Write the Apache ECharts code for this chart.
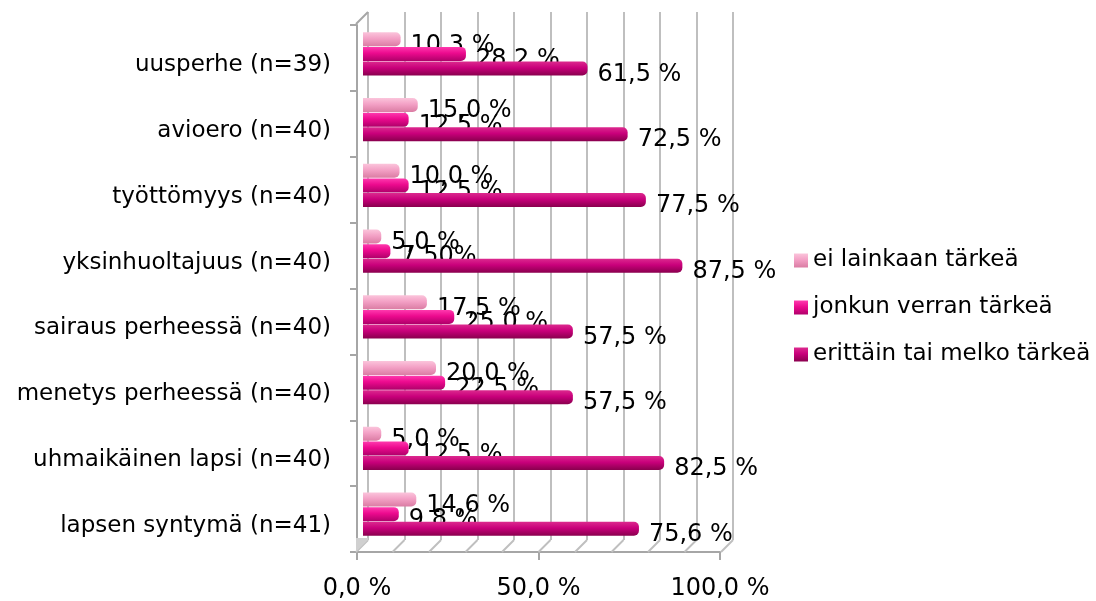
<!DOCTYPE html>
<html>
<head>
<meta charset="utf-8">
<script src="https://cdn.jsdelivr.net/npm/echarts@6/dist/echarts.min.js"></script>
<style>
html,body{margin:0;padding:0;background:#fff;}
#chart{width:1096px;height:601px;}
</style>
</head>
<body>
<div id="chart"></div>
<script>
const categories = [
  'uusperhe (n=39)',
  'avioero (n=40)',
  'työttömyys (n=40)',
  'yksinhuoltajuus (n=40)',
  'sairaus perheessä (n=40)',
  'menetys perheessä (n=40)',
  'uhmaikäinen lapsi (n=40)',
  'lapsen syntymä (n=41)'
];
const seriesNames = ['ei lainkaan tärkeä', 'jonkun verran tärkeä', 'erittäin tai melko tärkeä'];
const eiLainkaan = [10.3, 15.0, 10.0, 5.0, 17.5, 20.0, 5.0, 14.6];
const jonkunVerran = [28.2, 12.5, 12.5, 7.5, 25.0, 22.5, 12.5, 9.8];
const erittain = [61.5, 72.5, 77.5, 87.5, 57.5, 57.5, 82.5, 75.6];
const axisTicks = [0, 50, 100];
const backTicks = [0, 10, 20, 30, 40, 50, 60, 70, 80, 90, 100];
// label format exceptions (series index, data index) -> text as shown in the source
const labelOverrides = { '1-3': '7,50%' };

const FONT = 'DejaVu Sans';
function pct(v) { return v.toFixed(1).replace('.', ',') + ' %'; }

const grads = [
  ['#FBC4DB', '#F3A0C5', '#DA7CA3'],
  ['#FF3AAE', '#EC0A8E', '#B0006A'],
  ['#DC2A8E', '#C9007B', '#8A004E']
];
function grad(c) {
  return new echarts.graphic.LinearGradient(0, 0, 0, 1, [
    { offset: 0, color: c[0] },
    { offset: 0.45, color: c[1] },
    { offset: 1, color: c[2] }
  ]);
}
const legendColors = ['#F3A0C5', '#EC0A8E', '#C0006E'];
const dataSets = [eiLainkaan, jonkunVerran, erittain];

const barSeries = dataSets.map((d, si) => ({
  name: seriesNames[si],
  type: 'bar',
  xAxisIndex: 1,
  yAxisIndex: 1,
  data: d,
  barWidth: 14,
  barGap: '4%',
  color: legendColors[si],
  itemStyle: { color: grad(grads[si]), borderRadius: [0, 5, 5, 0] },
  label: {
    show: true,
    position: 'right',
    distance: 10,
    offset: [0, 6],
    color: '#000',
    fontFamily: FONT,
    fontSize: 24,
    formatter: p => labelOverrides[si + '-' + p.dataIndex] || pct(p.value)
  },
  z: 3 + si
}));

const chart = echarts.init(document.getElementById('chart'), null, { renderer: 'canvas' });
chart.setOption({
  backgroundColor: '#fff',
  animation: false,
  legend: {
    orient: 'vertical',
    left: 789,
    top: 244,
    icon: 'rect',
    itemWidth: 14,
    itemHeight: 14,
    itemGap: 24,
    data: seriesNames,
    textStyle: { fontFamily: FONT, fontSize: 23, color: '#000' }
  },
  grid: [
    { left: 368, right: 363, top: 12, bottom: 61 },   // back wall
    { left: 363, right: 368, top: 21, bottom: 54 },   // bars
    { left: 357, right: 376, top: 25, bottom: 49 },   // front axes
    { left: 357, right: 376, top: 32, bottom: 42 }    // category labels
  ],
  xAxis: [
    { gridIndex: 0, type: 'value', min: 0, max: 100, interval: 10,
      axisLine: { show: false }, axisTick: { show: false }, axisLabel: { show: false },
      splitLine: { show: true, lineStyle: { color: '#BFBFBF', width: 2 } } },
    { gridIndex: 1, type: 'value', min: 0, max: 100, show: false },
    { gridIndex: 2, type: 'value', min: 0, max: 100, interval: 50,
      axisLine: { show: true, lineStyle: { color: '#A6A6A6', width: 2 } },
      axisTick: { show: true, length: 8, lineStyle: { color: '#A6A6A6', width: 2 } },
      splitLine: { show: false },
      axisLabel: { fontFamily: FONT, fontSize: 24, color: '#000', margin: 25,
        formatter: v => pct(v) } },
    { gridIndex: 3, type: 'value', min: 0, max: 100, show: false }
  ],
  yAxis: [
    { gridIndex: 0, type: 'value', min: 0, max: 1, show: false },
    { gridIndex: 1, type: 'category', data: categories, inverse: true, show: false },
    { gridIndex: 2, type: 'category', data: categories, inverse: true,
      axisLine: { show: true, lineStyle: { color: '#A6A6A6', width: 2 } },
      axisTick: { show: true, length: 7, lineStyle: { color: '#A6A6A6', width: 2 } },
      splitLine: { show: false },
      axisLabel: { show: false } },
    { gridIndex: 3, type: 'category', data: categories, inverse: true,
      axisLine: { show: false }, axisTick: { show: false }, splitLine: { show: false },
      axisLabel: { fontFamily: FONT, fontSize: 23, color: '#000', margin: 26 } }
  ],
  series: [
    {
      type: 'custom',
      xAxisIndex: 0,
      yAxisIndex: 0,
      silent: true,
      data: backTicks,
      z: 1,
      renderItem: function (params, api) {
        const v = api.value(0);
        const b = api.coord([v, 0]);
        const children = [{
          type: 'line',
          shape: { x1: b[0], y1: b[1], x2: b[0] - 12, y2: b[1] + 12 },
          style: { stroke: '#BFBFBF', lineWidth: 2 }
        }];
        if (v === 0) {
          const t = api.coord([v, 1]);
          children.push({
            type: 'line',
            shape: { x1: t[0], y1: t[1], x2: t[0] - 12, y2: t[1] + 12 },
            style: { stroke: '#A6A6A6', lineWidth: 2 }
          });
          children.push({
            type: 'polygon',
            shape: { points: [[b[0], b[1] - 2], [b[0], b[1]], [b[0] - 12, b[1] + 12], [b[0] - 12, b[1] - 2]] },
            style: { fill: '#D0D0D0' }
          });
        }
        return { type: 'group', children: children };
      }
    }
  ].concat(barSeries)
});
</script>
</body>
</html>
